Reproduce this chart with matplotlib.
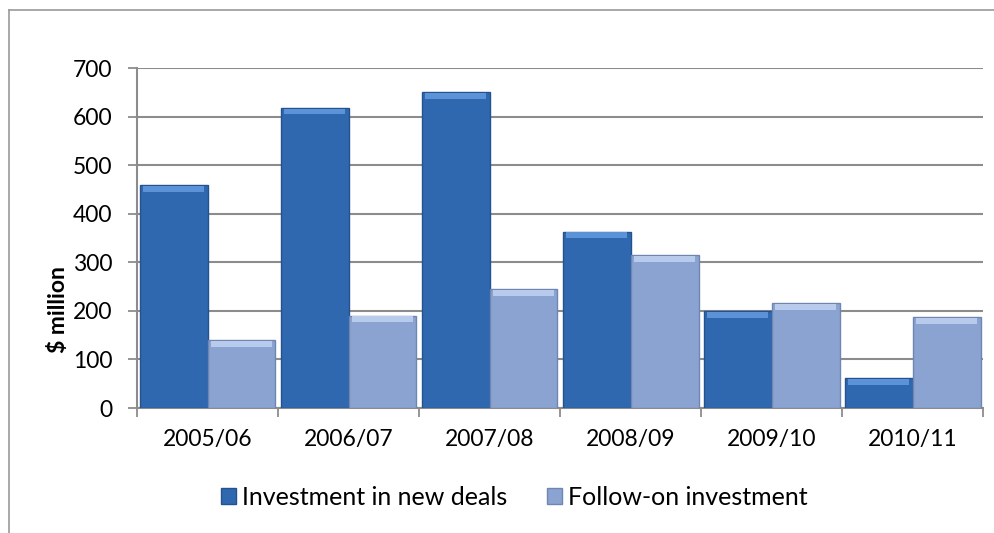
import numpy as np
import matplotlib.pyplot as plt
from matplotlib.lines import Line2D
from matplotlib.patches import Patch

plt.rcParams['font.family'] = ['Lato', 'DejaVu Sans']

years = ['2005/06', '2006/07', '2007/08', '2008/09', '2009/10', '2010/11']
new_deals = [459, 618, 650, 363, 199, 61]
follow_on = [140, 190, 245, 315, 216, 187]

col_new = '#3068b0'
col_follow = '#8aa3d0'
top_new = '#5b92d8'
top_follow = '#b8cbec'

fig = plt.figure(figsize=(9.95, 5.33), dpi=100)
ax = fig.add_axes([0.1377, 0.2345, 0.8503, 0.6379])

x = np.arange(len(years))
w = 0.482
bevel = 12

# main bars
ax.bar(x - w / 2, new_deals, w, color=col_new, edgecolor='#25528c', linewidth=1, zorder=3)
ax.bar(x + w / 2, follow_on, w, color=col_follow, edgecolor='#6f86b3', linewidth=1, zorder=3)
# lighter bevel at the top of each bar
ax.bar(x - w / 2, bevel, w * 0.9, bottom=np.array(new_deals) - bevel - 1.5,
       color=top_new, linewidth=0, zorder=4)
ax.bar(x + w / 2, bevel, w * 0.9, bottom=np.array(follow_on) - bevel - 1.5,
       color=top_follow, linewidth=0, zorder=4)

ax.set_xlim(-0.5, len(years) - 0.5)
ax.set_ylim(0, 700)
ax.set_yticks(range(0, 701, 100))
ax.set_xticks(x)
ax.set_xticklabels(years, fontsize=16.5)
ax.set_xticks(np.arange(-0.5, len(years)), minor=True)
ax.tick_params(axis='x', which='major', length=0, pad=15)
ax.tick_params(axis='x', which='minor', length=6.5, color='#8c8c8c', width=1.3)
ax.tick_params(axis='y', labelsize=16.5, length=6.5, color='#8c8c8c', width=1.3, pad=11)

ax.yaxis.grid(True, color='#8c8c8c', linewidth=1.5, zorder=0)
ax.set_axisbelow(True)
for s in ['top', 'right']:
    ax.spines[s].set_visible(False)
for s in ['left', 'bottom']:
    ax.spines[s].set_color('#8c8c8c')
    ax.spines[s].set_linewidth(1.5)

ax.set_ylabel('$ million', fontsize=16.5, fontweight='bold', va='center')
ax.yaxis.set_label_coords(-0.093, 0.29)

handles = [Patch(facecolor=col_new, edgecolor='#25528c'),
           Patch(facecolor=col_follow, edgecolor='#6f86b3')]
fig.legend(handles, ['Investment in new deals', 'Follow-on investment'],
           loc='center', bbox_to_anchor=(0.517, 0.0675), ncol=2, frameon=False,
           fontsize=18, handlelength=0.6, handleheight=0.6, handletextpad=0.25,
           columnspacing=1.6)

# outer chart border (left and top edges visible)
fig.add_artist(Line2D([0.009, 0.009], [0.0, 0.981], color='#9a9a9a', linewidth=1.2))
fig.add_artist(Line2D([0.009, 1.0], [0.981, 0.981], color='#9a9a9a', linewidth=1.2))

fig.savefig('out.png', dpi=100)
